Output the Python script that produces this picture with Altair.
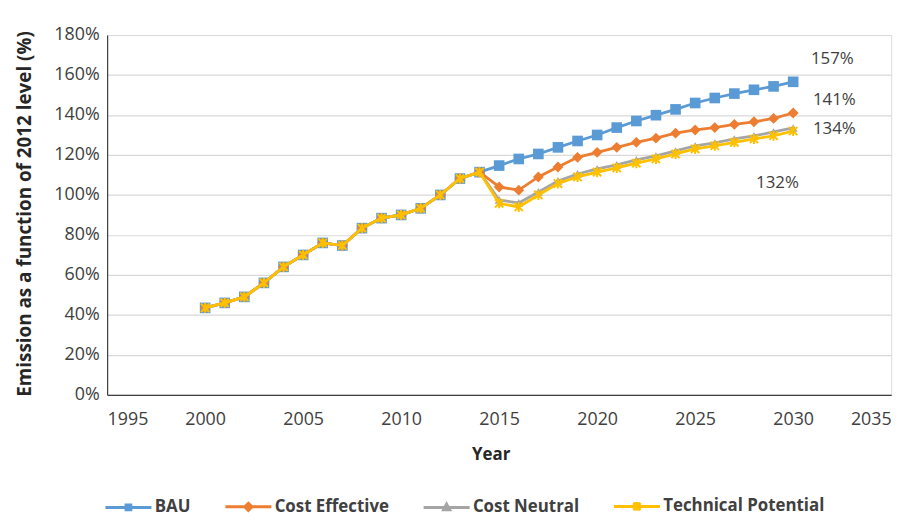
import altair as alt
import pandas as pd

series = ["BAU", "Cost Effective", "Cost Neutral", "Technical Potential"]
colors = ["#5B9BD5", "#ED7D31", "#A5A5A5", "#FFC000"]
years = list(range(2000, 2031))
hist = [43.5, 46, 49, 56, 64, 70, 76, 74.7, 83.4, 88.4, 90, 93.3, 100, 108.2, 111.4]
bau = [114.7, 118, 120.5, 123.8, 127, 130, 133.7, 137, 139.9, 142.8, 146, 148.5, 150.7, 152.6, 154.3, 156.6]
ce = [104, 102.4, 109, 114, 118.8, 121.3, 123.8, 126.3, 128.4, 130.9, 132.5, 133.7, 135.3, 136.6, 138.3, 141]
cn = [97.5, 96, 101.5, 107, 110.5, 113, 115, 117.5, 119.5, 122, 124.5, 126, 128, 129.5, 131.5, 133.5]
tp = [95.8, 94, 100, 105.7, 109, 111.4, 113.5, 115.9, 118, 120.5, 123, 124.6, 126.3, 128, 129.6, 132]

ann_text = ["157%", "141%", "134%", "132%"]
ann_x = [2032.0, 2032.1, 2032.1, 2029.2]
ann_y = [168, 147.4, 133, 106]

x_ticks = list(range(1995, 2036, 5))
y_ticks = list(range(0, 181, 20))

FONT = "Open Sans"

rows = []
for s, fut in zip(series, [bau, ce, cn, tp]):
    for yr, v in zip(years, hist + fut):
        rows.append({"Year": yr, "Series": s, "Value": v})
df = pd.DataFrame(rows)
ann_df = pd.DataFrame({"Year": ann_x, "Value": ann_y, "Label": ann_text})

xenc = alt.X("Year:Q", scale=alt.Scale(domain=[1995, 2035], nice=False, zero=False),
             axis=alt.Axis(values=x_ticks, format="d", title="Year", grid=False, ticks=False,
                           tickSize=0, labelPadding=25, labelBaseline="middle",
                           labelFontSize=18, labelColor="#404040", labelFont=FONT,
                           domainColor="#404040", domainWidth=1.2,
                           titleFont=FONT, titleFontSize=17, titleFontWeight="bold",
                           titleColor="#262626", titleX=387, titleY=60,
                           titleBaseline="middle"))
yenc = alt.Y("Value:Q", scale=alt.Scale(domain=[0, 180], nice=False),
             axis=alt.Axis(values=y_ticks, labelExpr="datum.value + '%'",
                           title="Emission as a function of 2012 level (%)",
                           grid=True, gridColor="#D9D9D9", gridWidth=1.2, ticks=False,
                           tickSize=0, labelPadding=8, labelFontSize=18,
                           labelColor="#404040", labelFont=FONT,
                           domainColor="#404040", domainWidth=1.2,
                           titleFont=FONT, titleFontSize=19, titleFontWeight="bold",
                           titleColor="#262626", titleX=-83, titleY=180,
                           titleBaseline="middle", titleAlign="center", titleAngle=270))

color_nolegend = alt.Color("Series:N", scale=alt.Scale(domain=series, range=colors), legend=None)

shapes = ["square", "diamond", "triangle-up", "M-1,-1L1,1M-1,1L1,-1M0,-1.2L0,1.2"]
sizes = [115, 120, 80, 70]

legend_paths = [
    "M-2.9,0H2.9M-0.3,-0.3H0.3V0.3H-0.3Z",
    "M-2.9,0H2.9M0,-0.45L0.45,0L0,0.45L-0.45,0Z",
    "M-2.9,0H2.9M0,-0.42L0.38,0.28H-0.38Z",
    "M-2.9,0H2.9M-0.45,-0.45L0.45,0.45M-0.45,0.45L0.45,-0.45M0,-0.55V0.55",
]
leg = alt.Legend(title=None, orient="none", legendX=12, legendY=466, direction="horizontal",
                 symbolSize=256, symbolStrokeWidth=3, labelFont=FONT, labelFontSize=17,
                 labelFontWeight="bold", labelColor="#404040", labelOffset=17, labelLimit=400,
                 columnPadding=28, padding=0, symbolOpacity=1)

layers = []
# invisible layer that only carries the legend
layers.append(alt.Chart(df).mark_point(filled=False, strokeWidth=3, opacity=0).encode(
    x=xenc, y=yenc,
    color=alt.Color("Series:N", scale=alt.Scale(domain=series, range=colors), legend=leg),
    shape=alt.Shape("Series:N", scale=alt.Scale(domain=series, range=legend_paths), legend=leg),
))

for i, s in enumerate(series):
    sub = alt.Chart(df).transform_filter(alt.datum.Series == s)
    layers.append(sub.mark_line(strokeWidth=2.8).encode(x=xenc, y=yenc, color=color_nolegend))
    if i < 3:
        pt = sub.mark_point(shape=shapes[i], filled=True, size=sizes[i], opacity=1)
    else:
        pt = sub.mark_point(shape=shapes[i], filled=False, size=sizes[i], strokeWidth=2, opacity=1)
    layers.append(pt.encode(x=xenc, y=yenc, color=color_nolegend))

text_layer = alt.Chart(ann_df).mark_text(fontSize=17, color="#404040", font=FONT, align="center",
                                          baseline="middle").encode(x=xenc, y=yenc, text="Label:N")
layers.append(text_layer)

chart = alt.layer(*layers).properties(
    width=791, height=363,
    autosize=alt.AutoSizeParams(type="none"),
    padding={"left": 100, "top": 25, "right": 20, "bottom": 124},
).configure_view(stroke=None).configure(font=FONT)

chart.save("out.html", embed_options={"renderer": "svg", "actions": False})
